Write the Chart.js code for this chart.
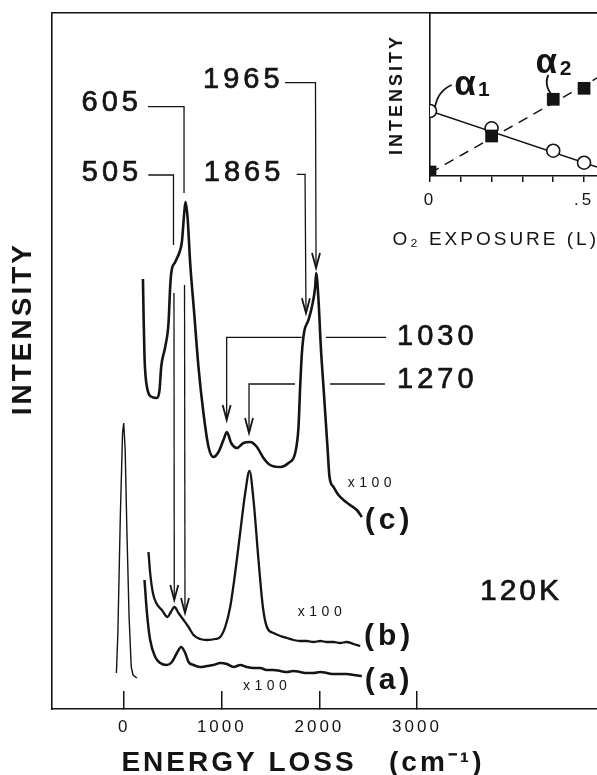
<!DOCTYPE html>
<html><head><meta charset="utf-8">
<script src="https://cdn.jsdelivr.net/npm/chart.js@4.4.1/dist/chart.umd.min.js"></script>
<style>
html,body{margin:0;padding:0;background:#fff;overflow:hidden;}
#wrap{position:relative;width:597px;height:775px;background:#fff;}
#main{position:absolute;left:0;top:0;}
#inset{position:absolute;left:370px;top:0;}
</style></head><body>
<div id="wrap">
<canvas id="main" width="597" height="775"></canvas>
<canvas id="inset" width="227" height="260"></canvas>
</div>
<script>
// ---------------- DATA ----------------
// Main panel: energy loss (cm^-1) vs intensity (arb. units)
const xTickValues = [0, 1000, 2000, 3000];

const elasticX = [-80, -65, -40, -17, -5, 10, 28, 50, 72, 90, 130];
const elasticY = [36, 76, 192, 276, 286, 259, 176, 92, 42, 34, 31];

const specAX = [208, 233, 266, 318, 369, 437, 489, 540, 584, 625, 659, 710, 779, 847, 915, 984, 1052, 1120, 1190, 1257, 1325, 1393, 1460, 1530, 1600, 1667, 1735, 1803, 1870, 1939, 2010, 2077, 2145, 2213, 2280, 2350, 2435];
const specAY = [129, 96, 69, 52, 46, 44, 47, 56, 62, 56, 47, 44, 42, 43, 44, 46, 45, 42, 44, 42, 41, 41, 39, 39, 38, 37, 38, 37, 36, 36, 37, 36, 35, 35, 35, 34, 33];

const specBX = [249, 266, 294, 328, 386, 444, 478, 515, 556, 608, 659, 710, 779, 847, 932, 984, 1035, 1086, 1137, 1188, 1240, 1284, 1325, 1376, 1421, 1462, 1530, 1600, 1667, 1735, 1803, 1870, 1939, 2010, 2077, 2145, 2213, 2280, 2350, 2418];
const specBY = [157, 136, 116, 106, 99, 92, 97, 102, 96, 89, 82, 74, 70, 69, 70, 72, 82, 102, 136, 176, 216, 238, 209, 149, 102, 82, 76, 73, 71, 69, 68, 68, 67, 68, 67, 67, 66, 67, 65, 63];

const specCX = [192, 198, 208, 233, 284, 335, 362, 379, 420, 454, 471, 482, 523, 567, 591, 615, 628, 649, 676, 717, 761, 812, 864, 915, 966, 1017, 1052, 1096, 1155, 1222, 1291, 1360, 1427, 1496, 1598, 1683, 1752, 1786, 1803, 1821, 1844, 1888, 1923, 1957, 1967, 1991, 2015, 2049, 2083, 2104, 2145, 2196, 2247, 2315, 2384, 2435];
const specCY = [430, 396, 352, 322, 312, 311, 319, 342, 362, 386, 422, 436, 447, 457, 467, 496, 507, 492, 446, 396, 342, 296, 262, 252, 257, 269, 277, 266, 261, 266, 267, 262, 251, 244, 242, 246, 256, 282, 322, 356, 377, 389, 402, 422, 436, 409, 362, 312, 262, 232, 222, 214, 209, 204, 199, 192];

const peakLabels = ['605', '505', '1965', '1865', '1030', '1270'];

// Inset: O2 exposure (L) vs intensity
const insetExposure = [0, 0.2, 0.4, 0.5];
const alpha1 = [65, 47.7, 25.3, 13.3];
const alpha2 = [4, 40, 76.7, 87.7];
const insetTickValues = [0, 0.1, 0.2, 0.3, 0.4, 0.5];
const insetTickLabels = ['0', '', '', '', '', '.5'];
const alpha1LineX = [0, 0.542];
const alpha1LineY = [65, 9];
const alpha2LineX = [0, 0.542];
const alpha2LineY = [3, 98];

// ---------------- STYLE / HELPERS ----------------
const FONT = "'Liberation Sans', Arial, Helvetica, sans-serif";
const INK = '#141414';
const pts = (xs, ys) => xs.map((x, i) => ({x: x, y: ys[i]}));

function spacing(px) {
  return {
    id: 'spacing',
    beforeLayout(c) { c.ctx.letterSpacing = px; },
    beforeDraw(c) { c.ctx.letterSpacing = px; }
  };
}
function noPad(s) { s.paddingLeft = 0; s.paddingRight = 0; s.paddingTop = 0; s.paddingBottom = 0; }

// annotation layout (data coordinates)
const mainTexts = [
  {t: peakLabels[0], x: -128, y: 606, size: 29, sp: 4, heavy: true},
  {t: peakLabels[1], x: -125, y: 536.5, size: 29, sp: 4, heavy: true},
  {t: peakLabels[2], x: 1221, y: 628.7, size: 29, sp: 4, heavy: true},
  {t: peakLabels[3], x: 1228, y: 536.5, size: 29, sp: 4, heavy: true},
  {t: peakLabels[4], x: 2796, y: 372, size: 29, sp: 4, align: 'left', heavy: true},
  {t: peakLabels[5], x: 2796, y: 329, size: 29, sp: 4, align: 'left', heavy: true},
  {t: 'x100', x: 2539, y: 226, size: 14, sp: 4.5},
  {t: '(c)', x: 2714, y: 188, size: 30, sp: 4, bold: true},
  {t: 'x100', x: 2027, y: 97, size: 14, sp: 4.5},
  {t: '(b)', x: 2714, y: 72, size: 30, sp: 4, bold: true},
  {t: '(a)', x: 2714, y: 28, size: 30, sp: 4, bold: true},
  {t: 'x100', x: 1464, y: 23, size: 14, sp: 4.5},
  {t: '120K', x: 4066, y: 117, size: 30, sp: 3, heavy: true}
];
const mainLeaders = [
  {p: [[244, 602.3], [613, 602.3], [613, 516]]},
  {p: [[618, 424], [623, 96]], arrow: true},
  {p: [[247, 534], [505, 534], [505, 464]]},
  {p: [[510, 416], [513, 109]], arrow: true},
  {p: [[1648, 626.3], [1960, 626.3], [1966, 441]], arrow: true},
  {p: [[1768, 534.7], [1853, 534.7], [1863, 395.7]], arrow: true},
  {p: [[2683, 371.7], [2068, 371.7]]},
  {p: [[1819, 371.7], [1050, 371.7], [1050, 289]], arrow: true},
  {p: [[2672, 325], [2109, 325]]},
  {p: [[1750, 325], [1279, 325], [1279, 276]], arrow: true}
];

function drawTextItem(ctx, xs, ys, a) {
  ctx.save();
  ctx.letterSpacing = a.sp + 'px';
  ctx.font = (a.bold ? 'bold ' : '') + a.size + 'px ' + FONT;
  ctx.fillStyle = INK;
  ctx.strokeStyle = INK;
  ctx.textAlign = a.align || 'center';
  ctx.textBaseline = 'middle';
  const px = xs.getPixelForValue(a.x), py = ys.getPixelForValue(a.y);
  ctx.fillText(a.t, px, py);
  if (a.heavy) { ctx.lineWidth = 0.7; ctx.strokeText(a.t, px, py); }
  ctx.restore();
}

const mainAnnotations = {
  id: 'mainAnnotations',
  afterDatasetsDraw(chart) {
    const ctx = chart.ctx, xs = chart.scales.x, ys = chart.scales.y;
    ctx.save();
    ctx.strokeStyle = INK;
    ctx.lineWidth = 1.3;
    ctx.lineJoin = 'miter';
    mainLeaders.forEach(l => {
      const P = l.p.map(q => [xs.getPixelForValue(q[0]), ys.getPixelForValue(q[1])]);
      ctx.beginPath();
      P.forEach((q, i) => i ? ctx.lineTo(q[0], q[1]) : ctx.moveTo(q[0], q[1]));
      ctx.stroke();
      if (l.arrow) {
        const a = P[P.length - 1], b = P[P.length - 2];
        const ang = Math.atan2(a[1] - b[1], a[0] - b[0]);
        const L = 15, W = 4;
        const bx = a[0] - L * Math.cos(ang), by = a[1] - L * Math.sin(ang);
        const nx = -Math.sin(ang) * W, ny = Math.cos(ang) * W;
        ctx.save();
        ctx.lineWidth = 1.8;
        ctx.beginPath();
        ctx.moveTo(bx + nx, by + ny);
        ctx.lineTo(a[0], a[1]);
        ctx.lineTo(bx - nx, by - ny);
        ctx.stroke();
        ctx.restore();
      }
    });
    ctx.restore();
    mainTexts.forEach(a => drawTextItem(ctx, xs, ys, a));
  }
};

// ---------------- MAIN CHART ----------------
new Chart(document.getElementById('main'), {
  type: 'scatter',
  data: {
    datasets: [
      {label: 'elastic', data: pts(elasticX, elasticY), showLine: true, borderColor: INK, borderWidth: 1.4, pointRadius: 0, tension: 0},
      {label: '(a)', data: pts(specAX, specAY), showLine: true, borderColor: INK, borderWidth: 2.5, pointRadius: 0, cubicInterpolationMode: 'monotone'},
      {label: '(b)', data: pts(specBX, specBY), showLine: true, borderColor: INK, borderWidth: 2.3, pointRadius: 0, cubicInterpolationMode: 'monotone'},
      {label: '(c)', data: pts(specCX, specCY), showLine: true, borderColor: INK, borderWidth: 2.6, pointRadius: 0, cubicInterpolationMode: 'monotone'}
    ]
  },
  options: {
    responsive: false, animation: false, devicePixelRatio: 1,
    layout: {padding: 0, autoPadding: false},
    plugins: {legend: {display: false}, tooltip: {enabled: false}},
    scales: {
      x: {
        type: 'linear', position: 'bottom', min: -740, max: 4845,
        afterFit(s) { s.height = 66; noPad(s); },
        afterBuildTicks(s) { s.ticks = xTickValues.map(v => ({value: v})); },
        grid: {display: true, drawOnChartArea: false, drawTicks: true, tickLength: -18, color: INK, lineWidth: 1.5},
        border: {display: true, color: INK, width: 1.6},
        ticks: {color: INK, font: {family: FONT, size: 17}, padding: 26, maxRotation: 0, autoSkip: false, callback: v => String(v)},
        title: {display: true, text: 'ENERGY LOSS   (cm\u207B\u00B9)    ', color: INK,
                font: {family: FONT, size: 28, weight: 'bold', lineHeight: 0.85}, padding: {top: 0, bottom: 0}}
      },
      xTop: {
        type: 'linear', position: 'top', min: -740, max: 4845,
        afterFit(s) { s.height = 13; noPad(s); },
        ticks: {display: false}, grid: {display: false},
        border: {display: true, color: INK, width: 1.6}
      },
      y: {
        type: 'linear', position: 'left', min: 0, max: 696,
        afterFit(s) { s.width = 52; noPad(s); },
        ticks: {display: false}, grid: {display: false},
        border: {display: true, color: INK, width: 1.6},
        title: {display: true, text: '      INTENSITY', color: INK,
                font: {family: FONT, size: 28, weight: 'bold', lineHeight: 0.85}, padding: {top: 11.6, bottom: 0}}
      }
    }
  },
  plugins: [spacing('3px'), mainAnnotations]
});

// ---------------- INSET ----------------
const insetTexts = [
  {t: '\u03B1', x: 0.1136, y: 91, size: 35, sp: 0, bold: true},
  {t: '1', x: 0.175, y: 86, size: 21, sp: 0, bold: true},
  {t: '\u03B1', x: 0.377, y: 113, size: 35, sp: 0, bold: true},
  {t: '2', x: 0.440, y: 107, size: 21, sp: 0, bold: true}
];
const insetLeaders = [
  [[0.0705, 91], [0.0250, 85.1], [0.0162, 68.7]],
  [[0.3841, 101], [0.3653, 88.5], [0.4114, 76]]
];
const insetXTitle = 'O\u2082 EXPOSURE (L)';
const insetAnnotations = {
  id: 'insetAnnotations',
  afterDatasetsDraw(chart) {
    const ctx = chart.ctx, xs = chart.scales.x, ys = chart.scales.y;
    ctx.save();
    ctx.strokeStyle = INK;
    ctx.lineWidth = 1.8;
    insetLeaders.forEach(q => {
      const P = q.map(r => [xs.getPixelForValue(r[0]), ys.getPixelForValue(r[1])]);
      ctx.beginPath();
      ctx.moveTo(P[0][0], P[0][1]);
      ctx.quadraticCurveTo(P[1][0], P[1][1], P[2][0], P[2][1]);
      ctx.stroke();
    });
    ctx.restore();
    insetTexts.forEach(a => drawTextItem(ctx, xs, ys, a));
  },
  afterDraw(chart) {
    // x-axis title (wider than the inset's axis, so drawn here, right-aligned to the axis end)
    const ctx = chart.ctx, xs = chart.scales.x;
    ctx.save();
    ctx.letterSpacing = '3px';
    ctx.font = '19px ' + FONT;
    ctx.fillStyle = INK;
    ctx.textAlign = 'right';
    ctx.textBaseline = 'middle';
    ctx.fillText(insetXTitle, xs.right + 2, xs.top + 64);
    ctx.restore();
  }
};

new Chart(document.getElementById('inset'), {
  type: 'scatter',
  data: {
    datasets: [
      {label: '\u03B12', data: pts(insetExposure, alpha2), pointStyle: 'rect', pointRadius: 9, backgroundColor: INK, borderColor: INK, borderWidth: 0, showLine: false, order: 0},
      {label: '\u03B11', data: pts(insetExposure, alpha1), pointStyle: 'circle', pointRadius: 6.5, backgroundColor: '#fff', borderColor: INK, borderWidth: 1.6, showLine: false, order: 1},
      {label: '\u03B12 line', data: pts(alpha2LineX, alpha2LineY), showLine: true, borderColor: INK, borderWidth: 1.5, borderDash: [10, 7], pointRadius: 0, order: 2},
      {label: '\u03B11 line', data: pts(alpha1LineX, alpha1LineY), showLine: true, borderColor: INK, borderWidth: 1.5, pointRadius: 0, order: 3}
    ]
  },
  options: {
    responsive: false, animation: false, devicePixelRatio: 1,
    layout: {padding: 0, autoPadding: false},
    plugins: {legend: {display: false}, tooltip: {enabled: false}},
    scales: {
      x: {
        type: 'linear', position: 'bottom', min: 0, max: 0.542,
        afterFit(s) { s.height = 84; noPad(s); },
        afterBuildTicks(s) { s.ticks = insetTickValues.map(v => ({value: v})); },
        grid: {display: true, drawOnChartArea: false, drawTicks: true, tickLength: 6, color: INK, lineWidth: 1.5},
        border: {display: true, color: INK, width: 1.6},
        ticks: {color: INK, font: {family: FONT, size: 17}, padding: 8, maxRotation: 0, autoSkip: false,
                callback: (v, i) => insetTickLabels[i]},
        title: {display: false}
      },
      xTop: {
        type: 'linear', position: 'top', min: 0, max: 0.542,
        afterFit(s) { s.height = 13; noPad(s); },
        ticks: {display: false}, grid: {display: false},
        border: {display: true, color: INK, width: 1.6}
      },
      y: {
        type: 'linear', position: 'left', min: 0, max: 163,
        afterFit(s) { s.width = 60; noPad(s); },
        ticks: {display: false}, grid: {display: false},
        border: {display: true, color: INK, width: 1.6},
        title: {display: true, text: 'INTENSITY', color: INK,
                font: {family: FONT, size: 18, weight: 'bold'}, padding: {top: 16.2, bottom: 0}}
      }
    }
  },
  plugins: [spacing('3px'), insetAnnotations]
});
</script>
</body></html>
